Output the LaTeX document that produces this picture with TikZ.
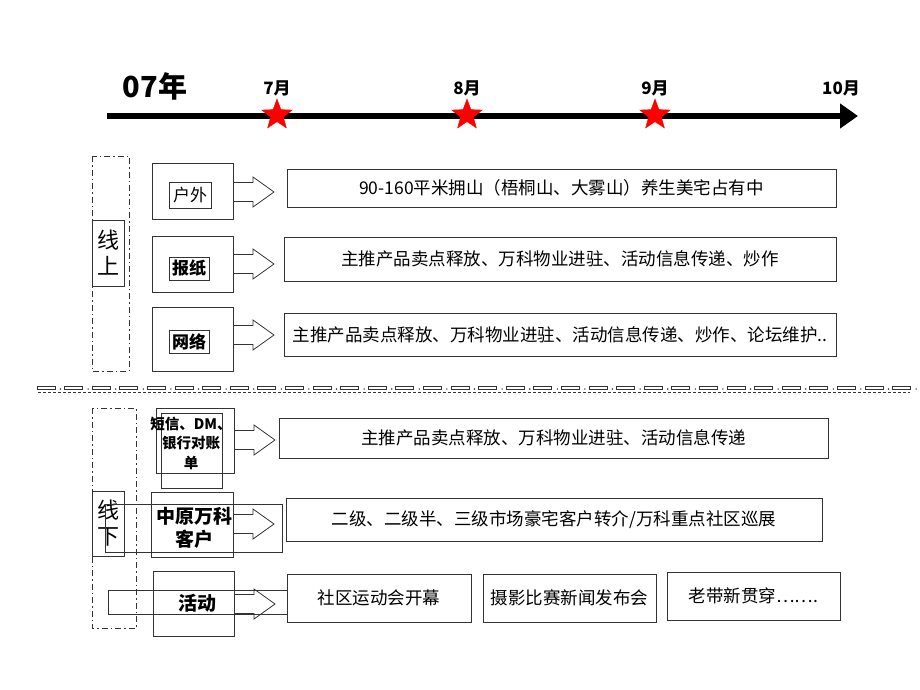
\documentclass[tikz,border=0pt]{standalone}
\usepackage{fontspec}
\setmainfont{Noto Sans CJK SC}
\usepackage{tikz}
\usetikzlibrary{shapes.geometric,arrows.meta}
\definecolor{linegray}{rgb}{0.2,0.2,0.2}

\tikzset{
  box/.style={draw=linegray,line width=0.8pt,inner sep=0pt},
  tag/.style={draw=linegray,line width=0.8pt,inner sep=0pt,font=\fontsize{17}{20}\selectfont},
  outbox/.style={draw=linegray,line width=0.8pt,inner sep=0pt,font=\fontsize{17.5}{20}\selectfont},
  redstar/.style={star,star points=5,star point ratio=2.4,fill=red,draw=red,minimum size=32pt,inner sep=0pt}
}

\begin{document}
\begin{tikzpicture}[x=1pt,y=-1pt]
    \useasboundingbox (0,0) rectangle (920,690);
    % time line
    \draw[-{Triangle[length=18pt,width=24pt]},line width=6pt] (107,116)--(858,116);
    \node[font=\fontsize{29}{32}\selectfont\bfseries] (year) at (155,86) {07年};
    \foreach \x/\m in {277/7,467/8,655/9}{
        \node[font=\fontsize{17}{19}\selectfont\bfseries] (m\m) at (\x,88) {\m 月};
        \node[redstar] (s\m) at (\x,115) {};
    }
    \node[font=\fontsize{17}{19}\selectfont\bfseries] (m10) at (841,88) {10月};

    % online
    \draw[linegray,dash pattern=on 6pt off 3pt on 1.5pt off 3pt] (92,156) rectangle (129,371);
    \node[box,minimum width=32pt,minimum height=66pt,align=center,font=\fontsize{22}{26}\selectfont] (up) at (108,253) {线\\上};
    \node[box,minimum width=81pt,minimum height=56pt] (outdoor) at (192.5,191) {};
    \node[tag,minimum width=42pt,minimum height=26pt] (outdoort) at (190,195) {户外};
    \node[box,minimum width=81pt,minimum height=56pt] (paper) at (192.5,264) {};
    \node[tag,minimum width=40pt,minimum height=23pt,font=\fontsize{17}{20}\selectfont\bfseries] (papert) at (189,268.5) {报纸};
    \node[box,minimum width=81pt,minimum height=64pt] (net) at (192.5,339) {};
    \node[tag,minimum width=40pt,minimum height=23pt,font=\fontsize{17}{20}\selectfont\bfseries] (nett) at (189,341.5) {网络};
    \node[outbox,minimum width=549pt,minimum height=38pt] (out1) at (561.5,188) {90-160平米拥山（梧桐山、大雾山）养生美宅占有中};
    \node[outbox,minimum width=552pt,minimum height=44pt] (out2) at (560,259) {主推产品卖点释放、万科物业进驻、活动信息传递、炒作};
    \node[outbox,minimum width=552pt,minimum height=43pt] (out3) at (560,334.5) {主推产品卖点释放、万科物业进驻、活动信息传递、炒作、论坛维护..};

    % separator
    \foreach \k in {0,...,31}{
        \draw[linegray,line width=0.7pt] (37+27.6*\k,386) rectangle (55+27.6*\k,389);
        \fill[linegray] (60.5+27.6*\k,389) circle (0.8pt);
    }
    \draw[linegray,dash pattern=on 3pt off 2pt] (38,392)--(910,392);

    % offline
    \draw[linegray,dash pattern=on 6pt off 3pt on 1.5pt off 3pt] (92,408) rectangle (136,628);
    \node[box,minimum width=32pt,minimum height=65pt,align=center,font=\fontsize{22}{26}\selectfont] (down) at (108,523.5) {线\\下};
    \node[box,minimum width=78pt,minimum height=65pt] (sms) at (195,440.5) {};
    \node[box,minimum width=61pt,minimum height=75pt] (smsb) at (191.5,450.5) {};
    \node[align=center,font=\fontsize{14.5}{19.5}\selectfont\bfseries] (smst) at (191,443) {短信、DM、\\银行对账\\单};
    \node[box,minimum width=82pt,minimum height=65pt] (client) at (192,524.5) {};
    \node[box,minimum width=177pt,minimum height=48pt] (clientb) at (193.5,528) {};
    \node[align=center,font=\fontsize{19}{23}\selectfont\bfseries] (clientt) at (194,528) {中原万科\\客户};
    \node[box,minimum width=81pt,minimum height=65pt] (event) at (193.5,603.5) {};
    \node[box,minimum width=179pt,minimum height=24pt] (eventb) at (197.5,602) {};
    \node[font=\fontsize{19}{21}\selectfont\bfseries] (eventt) at (197,603) {活动};
    \node[outbox,minimum width=549pt,minimum height=40pt] (out4) at (553.5,438) {主推产品卖点释放、万科物业进驻、活动信息传递};
    \node[outbox,minimum width=536pt,minimum height=43pt] (out5) at (554,519.5) {二级、二级半、三级市场豪宅客户转介/万科重点社区巡展};
    \node[outbox,minimum width=184pt,minimum height=48pt] (out6) at (379,598) {社区运动会开幕};
    \node[outbox,minimum width=173pt,minimum height=48pt] (out7) at (569.5,598) {摄影比赛新闻发布会};
    \node[outbox,minimum width=173pt,minimum height=48pt] (out8) at (753.5,596) {老带新贯穿…….};

    % block arrows
    \foreach \x/\y in {233/192,233/264,233/335,234/440,233/524,234/604}{
        \draw[linegray,line width=0.8pt] (\x,\y-9.5)--(\x+20,\y-9.5)--(\x+20,\y-15)--(\x+41,\y)
            --(\x+20,\y+15)--(\x+20,\y+9.5)--(\x,\y+9.5);
    }
\end{tikzpicture}
\end{document}
